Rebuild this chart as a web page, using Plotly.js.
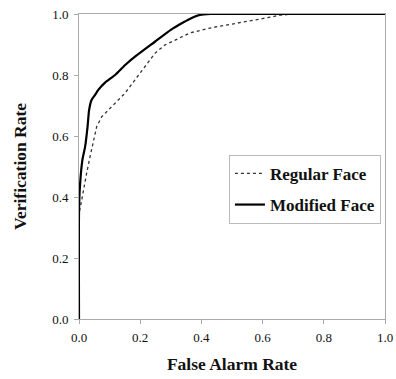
<!DOCTYPE html>
<html>
<head>
<meta charset="utf-8">
<script src="https://cdn.plot.ly/plotly-3.0.1.min.js"></script>
<style>html,body{margin:0;padding:0;background:#fff;}#chart{width:396px;height:379px;}</style>
</head>
<body>
<div id="chart"></div>
<script>
const regularX = [0, 0, 0.007, 0.014, 0.025, 0.036, 0.047, 0.058, 0.074, 0.107, 0.150, 0.183, 0.220, 0.248, 0.280, 0.314, 0.363, 0.428, 0.493, 0.559, 0.600, 0.657, 0.700, 0.8, 0.9, 1.0];
const regularY = [0, 0.347, 0.380, 0.423, 0.478, 0.532, 0.587, 0.631, 0.663, 0.696, 0.740, 0.784, 0.835, 0.871, 0.898, 0.915, 0.938, 0.954, 0.965, 0.976, 0.985, 0.996, 1.0, 1.0, 1.0, 1.0];
const modifiedX = [0, 0, 0.003, 0.011, 0.020, 0.028, 0.033, 0.041, 0.052, 0.063, 0.085, 0.118, 0.150, 0.183, 0.248, 0.300, 0.340, 0.370, 0.395, 0.43, 0.5, 0.6, 0.7, 0.8, 0.9, 1.0];
const modifiedY = [0, 0.347, 0.434, 0.521, 0.565, 0.631, 0.685, 0.718, 0.734, 0.751, 0.775, 0.800, 0.832, 0.860, 0.909, 0.948, 0.972, 0.988, 0.997, 1.0, 1.0, 1.0, 1.0, 1.0, 1.0, 1.0];
const tickVals = [0, 0.2, 0.4, 0.6, 0.8, 1.0];
const tickText = ['0.0', '0.2', '0.4', '0.6', '0.8', '1.0'];
const seriesNames = ['Regular Face', 'Modified Face'];

const serif = 'Liberation Serif';
const traces = [
  {x: regularX, y: regularY, name: '<b>' + seriesNames[0] + '</b>', mode: 'lines', legendgroup: 'a',
   line: {color: '#333', width: 1.3, dash: 'dot'}},
  {x: modifiedX, y: modifiedY, name: '<b>' + seriesNames[1] + '</b>', mode: 'lines', legendgroup: 'b',
   line: {color: '#000', width: 2.2, shape: 'spline', smoothing: 0.6}}
];
const axisCommon = {
  range: [0, 1], tickvals: tickVals, ticktext: tickText,
  showgrid: false, zeroline: false, showline: true, mirror: true,
  linecolor: '#aaa', linewidth: 1, ticks: 'outside', ticklen: 4, tickcolor: '#aaa',
  tickfont: {family: serif, size: 13, color: '#111'}, fixedrange: true
};
const layout = {
  width: 396, height: 379,
  font: {family: serif},
  margin: {l: 79, r: 11, t: 14, b: 60},
  paper_bgcolor: '#fff', plot_bgcolor: '#fff',
  xaxis: Object.assign({}, axisCommon, {
    ticklabelstandoff: 2,
    title: {text: '<b>False Alarm Rate</b>', font: {family: serif, size: 17.5, color: '#111'}, standoff: 14}
  }),
  yaxis: Object.assign({}, axisCommon, {
    ticklabelstandoff: 3,
    title: {text: '<b>Verification Rate</b>', font: {family: serif, size: 17.5, color: '#111'}, standoff: 21}
  }),
  showlegend: true,
  legend: {
    x: 0.49, y: 0.538, xanchor: 'left', yanchor: 'top',
    bgcolor: '#fff', bordercolor: '#bbb', borderwidth: 1,
    font: {family: serif, size: 17, color: '#111'},
    traceorder: 'grouped', tracegroupgap: 6, itemwidth: 30
  }
};
Plotly.newPlot('chart', traces, layout, {staticPlot: true});
</script>
</body>
</html>
